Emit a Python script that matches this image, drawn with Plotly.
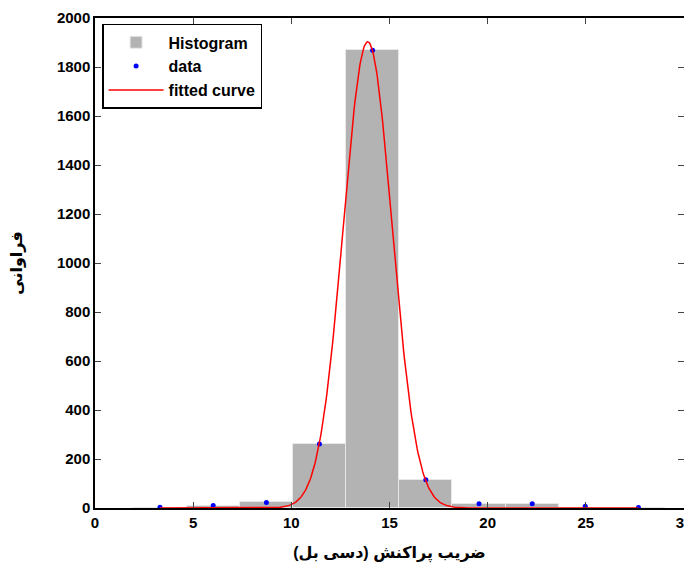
import numpy as np
import plotly.graph_objects as go

# bin centers and counts
centers = [3.31, 6.02, 8.73, 11.43, 14.14, 16.85, 19.56, 22.27, 24.97, 27.68]
counts = [0, 10, 23, 261, 1868, 115, 17, 15, 0, 0]
data_y = [3, 10, 22, 261, 1868, 115, 17, 17, 7, 2]

# fitted Gaussian parameters
fit_amp = 1903
fit_mu = 13.89
fit_sigma = 1.24

x_ticks = [0, 5, 10, 15, 20, 25, 30]
y_ticks = list(range(0, 2001, 200))

xs = np.linspace(min(centers), max(centers), 600)
ys = fit_amp * np.exp(-((xs - fit_mu) ** 2) / (2 * fit_sigma ** 2))

font_main = dict(family="Liberation Sans, Arial, sans-serif", size=15, color="black", weight="bold")
font_title = dict(family="Liberation Sans, DejaVu Sans, sans-serif", size=16, color="black", weight="bold")

fig = go.Figure()
fig.add_trace(go.Bar(
    x=centers, y=counts, width=2.708, name="Histogram",
    marker=dict(color="#b3b3b3", line=dict(color="#e8e8e8", width=1)),
))
fig.add_trace(go.Scatter(
    x=centers, y=data_y, mode="markers", name="data",
    marker=dict(color="#0000ff", size=5),
))
fig.add_trace(go.Scatter(
    x=xs, y=ys, mode="lines", name="fitted curve",
    line=dict(color="#ff0000", width=1.5),
))

fig.update_layout(
    width=684, height=563,
    margin=dict(l=87, r=8, t=10, b=63),
    plot_bgcolor="white", paper_bgcolor="white",
    font=font_main,
    bargap=0,
    showlegend=True,
    legend=dict(
        x=0.012, y=0.988, xanchor="left", yanchor="top",
        bgcolor="white", bordercolor="black", borderwidth=1.5,
        font=dict(family="Liberation Sans, Arial, sans-serif", size=16, color="black", weight="bold"),
        tracegroupgap=0, itemwidth=55,
    ),
    xaxis=dict(
        range=[0, 30], tickvals=x_ticks, ticks="inside", ticklen=6,
        showline=True, linecolor="black", linewidth=1.5, mirror="ticks",
        showgrid=False, zeroline=False, automargin=False,
        ticklabeloverflow="allow",
        tickfont=font_main,
        title=dict(text="ضریب پراکنش (دسی بل)", font=font_title, standoff=17),
    ),
    yaxis=dict(
        range=[0, 2000], tickvals=y_ticks, ticks="inside", ticklen=6,
        showline=True, linecolor="black", linewidth=1.5, mirror="ticks",
        showgrid=False, zeroline=False, automargin=False,
        tickfont=font_main,
        title=dict(text="فراوانی", font=font_title, standoff=32),
    ),
)

fig.write_html("out.html")
